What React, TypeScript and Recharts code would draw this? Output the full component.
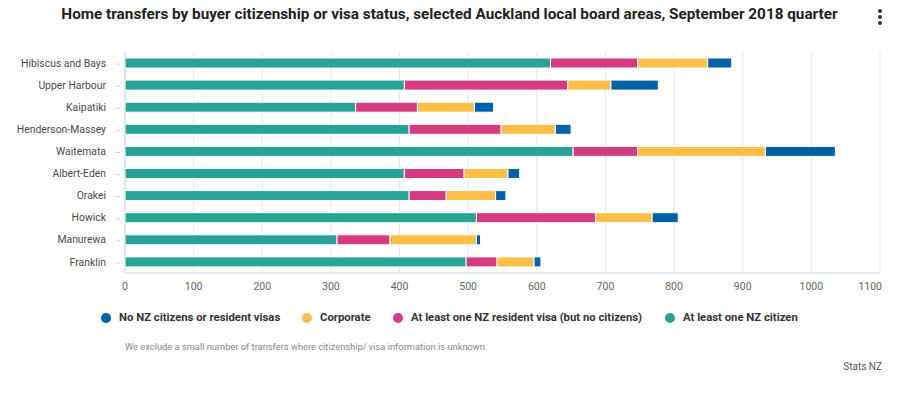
import React from 'react';
import { BarChart, Bar, XAxis, YAxis, CartesianGrid } from 'recharts';

// Local board areas, top to bottom
const boards = [
  'Hibiscus and Bays',
  'Upper Harbour',
  'Kaipatiki',
  'Henderson-Massey',
  'Waitemata',
  'Albert-Eden',
  'Orakei',
  'Howick',
  'Manurewa',
  'Franklin',
];

// Home transfers per buyer group
const nzCitizen = [620, 407, 336, 414, 653, 407, 414, 512, 309, 497];
const residentVisa = [127, 238, 90, 134, 94, 87, 54, 174, 77, 45];
const corporate = [102, 63, 83, 79, 186, 64, 72, 82, 126, 54];
const noVisa = [35, 69, 28, 23, 102, 17, 15, 38, 6, 10];

const xTicks = [0, 100, 200, 300, 400, 500, 600, 700, 800, 900, 1000, 1100];

const FONT = 'Roboto, "Liberation Sans", sans-serif';

const series = [
  { key: 'noVisa', label: 'No NZ citizens or resident visas', color: '#0061a7', left: 101 },
  { key: 'corporate', label: 'Corporate', color: '#ffbe46', left: 302 },
  { key: 'residentVisa', label: 'At least one NZ resident visa (but no citizens)', color: '#d63a81', left: 393 },
  { key: 'nzCitizen', label: 'At least one NZ citizen', color: '#28a397', left: 665 },
];

const data = boards.map((name, i) => ({
  name,
  nzCitizen: nzCitizen[i],
  residentVisa: residentVisa[i],
  corporate: corporate[i],
  noVisa: noVisa[i],
}));

const BoardTick = (props: any) => {
  const { x, y, payload } = props;
  return (
    <g>
      <line x1={x - 10} x2={x - 5} y1={y + 1} y2={y + 1} stroke="#ccd6eb" />
      <text x={x - 19} y={y} dy="0.35em" textAnchor="end" fontSize={10.4} fill="#4a4a4a" fontFamily={FONT}>
        {payload.value}
      </text>
    </g>
  );
};

const ValueTick = (props: any) => {
  const { x, y, payload } = props;
  // last label gets pulled inside the plot edge
  const isLast = payload.value === xTicks[xTicks.length - 1];
  return (
    <text x={isLast ? x + 2 : x} y={y} dy="0.71em" textAnchor={isLast ? 'end' : 'middle'} fontSize={10.5} fill="#666" fontFamily={FONT}>
      {payload.value}
    </text>
  );
};

const App: React.FC = () => {
  // stacking order left to right is the reverse of the legend
  const stackOrder = [...series].reverse();
  return (
    <div style={{ position: 'absolute', left: 0, top: 0, width: 910, height: 394, background: '#fff', overflow: 'hidden', fontFamily: FONT }}>
      <div style={{ position: 'absolute', left: 0, width: 899, top: 5, textAlign: 'center', fontSize: 15.3, fontWeight: 700, color: '#222' }}>
        Home transfers by buyer citizenship or visa status, selected Auckland local board areas, September 2018 quarter
      </div>
      {/* context menu dots */}
      {[10, 16, 22].map((t) => (
        <div key={t} style={{ position: 'absolute', left: 878, top: t - 1, width: 4, height: 4, borderRadius: 2, background: '#333' }} />
      ))}

      <div style={{ position: 'absolute', left: 0, top: 0 }}>
        <BarChart
          width={910}
          height={300}
          data={data}
          layout="vertical"
          margin={{ top: 52, right: 30, left: 0, bottom: 0 }}
          barSize={10}
        >
          <CartesianGrid horizontal={false} stroke="#e6e6e6" />
          <XAxis
            type="number"
            domain={[0, 1100]}
            ticks={xTicks}
            height={27}
            axisLine={{ stroke: '#ccd6eb' }}
            tickLine={false}
            tickSize={8}
            tick={<ValueTick />}
          />
          <YAxis
            type="category"
            dataKey="name"
            width={125}
            axisLine={{ stroke: '#ccd6eb' }}
            tickLine={false}
            tickSize={0}
            tickMargin={0}
            tick={<BoardTick />}
            interval={0}
          />
          {stackOrder.map((s) => (
            <Bar key={s.key} dataKey={s.key} stackId="a" fill={s.color} stroke="#fff" strokeWidth={1} isAnimationActive={false} />
          ))}
        </BarChart>
      </div>

      {/* legend */}
      {series.map((s) => (
        <div key={s.key} style={{ position: 'absolute', top: 311, left: s.left, display: 'flex', alignItems: 'center', fontSize: 11.3, fontWeight: 700, color: '#333', whiteSpace: 'nowrap' }}>
          <span style={{ width: 10, height: 10, borderRadius: 5, background: s.color, marginRight: 8, display: 'inline-block' }} />
          <span>{s.label}</span>
        </div>
      ))}

      <div style={{ position: 'absolute', top: 341, left: 125, fontSize: 9.3, color: '#888' }}>
        We exclude a small number of transfers where citizenship/ visa information is unknown.
      </div>
      <div style={{ position: 'absolute', top: 361, right: 28, fontSize: 10, color: '#555' }}>Stats NZ</div>
    </div>
  );
};

export default App;
